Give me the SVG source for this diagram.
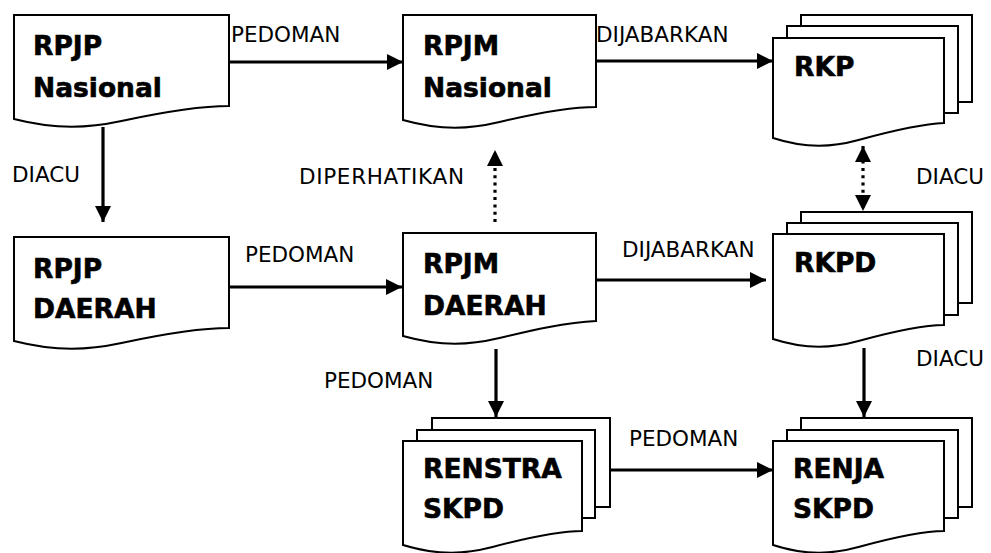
<svg xmlns="http://www.w3.org/2000/svg" width="991" height="553" viewBox="0 0 991 553">
  <style>
    .doc { fill: #ffffff; stroke: #000000; stroke-width: 2; }
    .title { font-family: "DejaVu Sans", Verdana, sans-serif; font-weight: bold; font-size: 26.5px; fill: #000000; stroke: #000000; stroke-width: 0.6; }
    .lbl { font-family: "DejaVu Sans", Verdana, sans-serif; font-size: 21.5px; fill: #000000; }
    .edge { fill: none; stroke: #000000; stroke-width: 3.2; }
    .dotted { stroke-dasharray: 3 4.3; }
  </style>
  <defs>
    <marker id="arrow" markerUnits="userSpaceOnUse" markerWidth="17" markerHeight="17" refX="16" refY="8" orient="auto-start-reverse">
      <path d="M0,0 L16,8 L0,16 Z" fill="#000000"/>
    </marker>
  </defs>
  <rect width="991" height="553" fill="#ffffff"/>

  <!-- single document nodes -->
  <g id="rpjp-nasional">
    <path class="doc" d="M14,15 V119 C57,130 89,128 121.5,121 S197,106 229,106 V15 Z"/>
    <text class="title" x="33" y="55">RPJP</text>
    <text class="title" x="33" y="97">Nasional</text>
  </g>
  <g id="rpjm-nasional">
    <path class="doc" d="M403,15 V120 C442,131 470,129 499.5,122 S567,107 596,107 V15 Z"/>
    <text class="title" x="423" y="55">RPJM</text>
    <text class="title" x="423" y="97">Nasional</text>
  </g>
  <g id="rpjp-daerah">
    <path class="doc" d="M14,237 V341 C57,352 89,350 121.5,343 S197,328 229,328 V237 Z"/>
    <text class="title" x="33" y="278">RPJP</text>
    <text class="title" x="33" y="318">DAERAH</text>
  </g>
  <g id="rpjm-daerah">
    <path class="doc" d="M403,233 V336 C442,347 470,345 499.5,338 S567,322 596,321 V233 Z"/>
    <text class="title" x="423" y="273">RPJM</text>
    <text class="title" x="423" y="315">DAERAH</text>
  </g>

  <!-- stacked document nodes -->
  <g id="rkp">
    <rect class="doc" x="801" y="15" width="171" height="87"/>
    <rect class="doc" x="787" y="26" width="171" height="87"/>
    <path class="doc" d="M773,38 V138 C807,149 833,147 858.5,140 S918,124 944,123 V38 Z"/>
    <text class="title" x="794" y="76">RKP</text>
  </g>
  <g id="rkpd">
    <rect class="doc" x="801" y="212" width="171" height="91"/>
    <rect class="doc" x="787" y="223" width="171" height="92"/>
    <path class="doc" d="M773,234 V339 C807,350 833,348 858.5,341 S918,325 944,325 V234 Z"/>
    <text class="title" x="794" y="272">RKPD</text>
  </g>
  <g id="renstra-skpd">
    <rect class="doc" x="432" y="418" width="178" height="89"/>
    <rect class="doc" x="417" y="430" width="178" height="88"/>
    <path class="doc" d="M403,441 V545 C439,556 466,554 492.5,547 S555,531 582,531 V441 Z"/>
    <text class="title" x="423" y="478">RENSTRA</text>
    <text class="title" x="423" y="518">SKPD</text>
  </g>
  <g id="renja-skpd">
    <rect class="doc" x="801" y="418" width="171" height="89"/>
    <rect class="doc" x="787" y="430" width="171" height="88"/>
    <path class="doc" d="M773,441 V545 C807,556 833,554 858.5,547 S918,531 944,531 V441 Z"/>
    <text class="title" x="793" y="478">RENJA</text>
    <text class="title" x="793" y="518">SKPD</text>
  </g>

  <!-- connectors -->
  <g id="connectors">
    <line class="edge" x1="229" y1="62" x2="403" y2="62" marker-end="url(#arrow)"/>
    <line class="edge" x1="596" y1="61" x2="773" y2="61" marker-end="url(#arrow)"/>
    <line class="edge" x1="103" y1="127" x2="103" y2="222" marker-end="url(#arrow)"/>
    <line class="edge" x1="229" y1="287" x2="402" y2="287" marker-end="url(#arrow)"/>
    <line class="edge" x1="596" y1="280" x2="766" y2="280" marker-end="url(#arrow)"/>
    <line class="edge" x1="496" y1="349" x2="496" y2="417" marker-end="url(#arrow)"/>
    <line class="edge dotted" x1="495" y1="222" x2="495" y2="150" marker-end="url(#arrow)"/>
    <line class="edge dotted" x1="863" y1="146" x2="863" y2="211" marker-start="url(#arrow)" marker-end="url(#arrow)"/>
    <line class="edge" x1="864" y1="348" x2="864" y2="417" marker-end="url(#arrow)"/>
    <line class="edge" x1="610" y1="470" x2="773" y2="470" marker-end="url(#arrow)"/>
  </g>

  <!-- connector labels -->
  <g id="labels">
    <text class="lbl" x="231" y="42">PEDOMAN</text>
    <text class="lbl" x="596" y="42">DIJABARKAN</text>
    <text class="lbl" x="12" y="182">DIACU</text>
    <text class="lbl" x="299" y="184" textLength="165">DIPERHATIKAN</text>
    <text class="lbl" x="916" y="184">DIACU</text>
    <text class="lbl" x="245" y="262">PEDOMAN</text>
    <text class="lbl" x="622" y="257">DIJABARKAN</text>
    <text class="lbl" x="324" y="388">PEDOMAN</text>
    <text class="lbl" x="916" y="366">DIACU</text>
    <text class="lbl" x="629" y="446">PEDOMAN</text>
  </g>
</svg>
